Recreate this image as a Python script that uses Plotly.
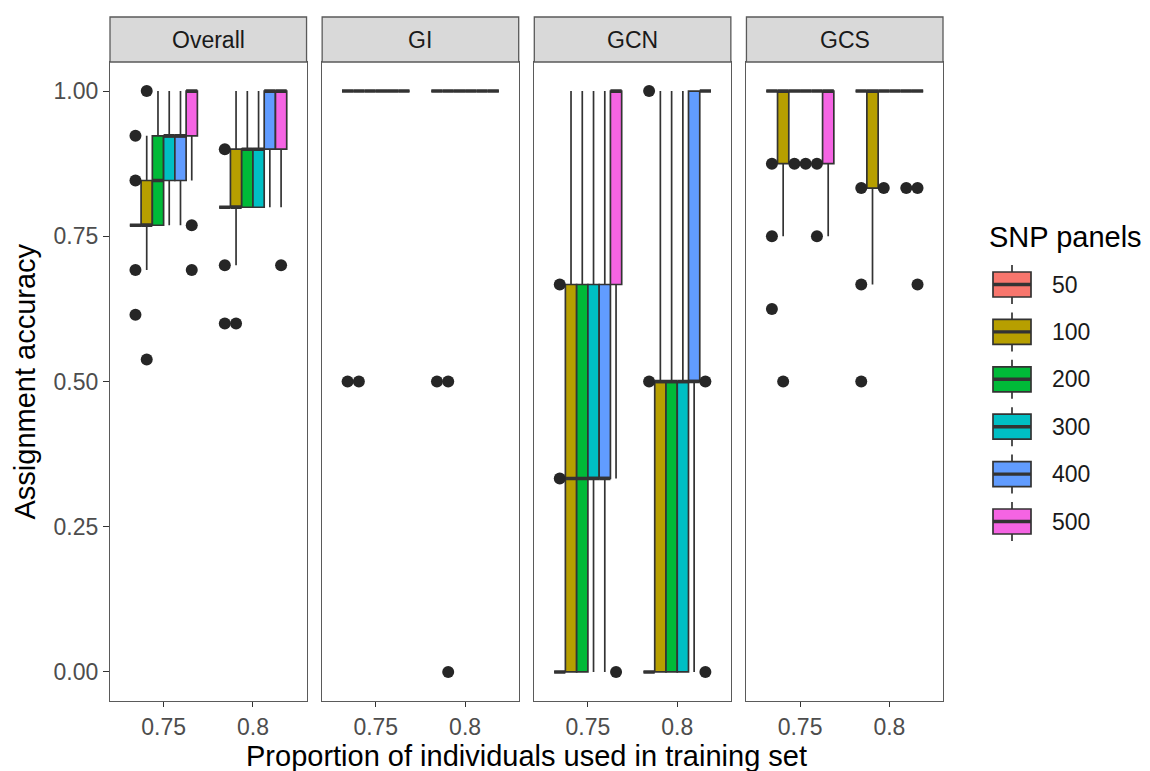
import plotly.graph_objects as go

# ---- data ---------------------------------------------------------------
FACETS = ["Overall", "GI", "GCN", "GCS"]
SNP_PANELS = ["50", "100", "200", "300", "400", "500"]
TRAIN_PROP = [0.75, 0.8]
PANEL_COLORS = ["#F8766D", "#B79F00", "#00BA38", "#00BFC4", "#619CFF", "#F564E3"]

# box statistics: one row per SNP panel, columns = training proportion (0.75, 0.8)
OVERALL_LOWER = [[0.769, 0.8], [0.692, 0.7], [0.769, 0.8], [0.769, 0.8], [0.769, 0.8], [0.846, 0.8]]
OVERALL_Q1 = [[0.769, 0.8], [0.769, 0.8], [0.769, 0.8], [0.846, 0.8], [0.846, 0.9], [0.923, 0.9]]
OVERALL_MEDIAN = [[0.769, 0.8], [0.769, 0.8], [0.846, 0.9], [0.923, 0.9], [0.923, 1.0], [1.0, 1.0]]
OVERALL_Q3 = [[0.769, 0.8], [0.846, 0.9], [0.923, 0.9], [0.923, 0.9], [0.923, 1.0], [1.0, 1.0]]
OVERALL_UPPER = [[0.769, 0.8], [0.923, 1.0], [1.0, 1.0], [1.0, 1.0], [1.0, 1.0], [1.0, 1.0]]
OVERALL_OUTLIERS = [[[0.923, 0.846, 0.692, 0.615], [0.9, 0.7, 0.6]],
                    [[1.0, 0.538], [0.6]],
                    [[], []], [[], []], [[], []],
                    [[0.769, 0.692], [0.7]]]

GI_LOWER = [[1.0, 1.0]] * 6
GI_Q1 = [[1.0, 1.0]] * 6
GI_MEDIAN = [[1.0, 1.0]] * 6
GI_Q3 = [[1.0, 1.0]] * 6
GI_UPPER = [[1.0, 1.0]] * 6
GI_OUTLIERS = [[[0.5], [0.5]], [[0.5], [0.5, 0.0]], [[], []], [[], []], [[], []], [[], []]]

GCN_LOWER = [[0.0, 0.0], [0.0, 0.0], [0.0, 0.0], [0.0, 0.0], [0.0, 0.0], [0.333, 1.0]]
GCN_Q1 = [[0.0, 0.0], [0.0, 0.0], [0.0, 0.0], [0.333, 0.0], [0.333, 0.5], [0.667, 1.0]]
GCN_MEDIAN = [[0.0, 0.0], [0.333, 0.5], [0.333, 0.5], [0.333, 0.5], [0.333, 0.5], [1.0, 1.0]]
GCN_Q3 = [[0.0, 0.0], [0.667, 0.5], [0.667, 0.5], [0.667, 0.5], [0.667, 1.0], [1.0, 1.0]]
GCN_UPPER = [[0.0, 0.0], [1.0, 1.0], [1.0, 1.0], [1.0, 1.0], [1.0, 1.0], [1.0, 1.0]]
GCN_OUTLIERS = [[[0.667, 0.333], [1.0, 0.5]], [[], []], [[], []], [[], []], [[], []],
                [[0.0], [0.5, 0.0]]]

GCS_LOWER = [[1.0, 1.0], [0.75, 0.667], [1.0, 1.0], [1.0, 1.0], [1.0, 1.0], [0.75, 1.0]]
GCS_Q1 = [[1.0, 1.0], [0.875, 0.833], [1.0, 1.0], [1.0, 1.0], [1.0, 1.0], [0.875, 1.0]]
GCS_MEDIAN = [[1.0, 1.0]] * 6
GCS_Q3 = [[1.0, 1.0]] * 6
GCS_UPPER = [[1.0, 1.0]] * 6
GCS_OUTLIERS = [[[0.875, 0.75, 0.625], [0.833, 0.667, 0.5]],
                [[0.5], []],
                [[0.875], [0.833]],
                [[0.875], []],
                [[0.875, 0.75], [0.833]],
                [[], [0.833, 0.667]]]

Y_TICKS = [0.0, 0.25, 0.5, 0.75, 1.0]
X_TITLE = "Proportion of individuals used in training set"
Y_TITLE = "Assignment accuracy"
LEGEND_TITLE = "SNP panels"

STATS = {
    "Overall": (OVERALL_LOWER, OVERALL_Q1, OVERALL_MEDIAN, OVERALL_Q3, OVERALL_UPPER, OVERALL_OUTLIERS),
    "GI": (GI_LOWER, GI_Q1, GI_MEDIAN, GI_Q3, GI_UPPER, GI_OUTLIERS),
    "GCN": (GCN_LOWER, GCN_Q1, GCN_MEDIAN, GCN_Q3, GCN_UPPER, GCN_OUTLIERS),
    "GCS": (GCS_LOWER, GCS_Q1, GCS_MEDIAN, GCS_Q3, GCS_UPPER, GCS_OUTLIERS),
}

# ---- layout geometry ----------------------------------------------------
W, H = 1150, 771
ML, MR, MT, MB = 110, 207, 62, 70
PW, PH = W - ML - MR, H - MT - MB
PANEL_GAP = 15.6
PANEL_W = (PW - 3 * PANEL_GAP) / 4
STRIP_H = 45
FONT = "Liberation Sans, Arial, sans-serif"
OUTLINE = "#333333"
BOX_LW = 1.7
MEDIAN_LW = 3.4
SMALL_TXT = 23
TITLE_TXT = 29
DODGE = 0.0063  # width of one dodged box in x units


def px_x(px):
    return (px - ML) / PW


def px_y(py):
    return 1 - (py - MT) / PH


fig = go.Figure()
shapes, annotations = [], []

for f, facet in enumerate(FACETS):
    ax = "" if f == 0 else str(f + 1)
    left = ML + f * (PANEL_W + PANEL_GAP)
    dom = [max(0.0, px_x(left)), min(1.0, px_x(left + PANEL_W))]
    lower, q1, med, q3, upper, outl = STATS[facet]
    for g, panel in enumerate(SNP_PANELS):
        off = (g - (len(SNP_PANELS) - 1) / 2) * DODGE
        xs = [p + off for p in TRAIN_PROP]
        # box + whiskers
        fig.add_trace(go.Box(
            x=xs, q1=q1[g], median=med[g], q3=q3[g],
            lowerfence=lower[g], upperfence=upper[g],
            width=DODGE, whiskerwidth=0, boxpoints=False,
            fillcolor=PANEL_COLORS[g], line=dict(color=OUTLINE, width=BOX_LW),
            name=panel, showlegend=False, hoverinfo="skip",
            xaxis="x" + ax, yaxis="y" + ax,
        ))
        # heavier median bar, as in ggplot's fatten=2
        fig.add_trace(go.Box(
            x=xs, q1=med[g], median=med[g], q3=med[g],
            lowerfence=med[g], upperfence=med[g],
            width=DODGE, whiskerwidth=0, boxpoints=False,
            fillcolor="rgba(0,0,0,0)", line=dict(color=OUTLINE, width=MEDIAN_LW),
            name=panel, showlegend=False, hoverinfo="skip",
            xaxis="x" + ax, yaxis="y" + ax,
        ))
        ox, oy = [], []
        for k, p in enumerate(TRAIN_PROP):
            for v in outl[g][k]:
                ox.append(p + off)
                oy.append(v)
        if ox:
            fig.add_trace(go.Scatter(
                x=ox, y=oy, mode="markers",
                marker=dict(color="#262626", size=12, line=dict(width=0)),
                showlegend=False, hoverinfo="y",
                xaxis="x" + ax, yaxis="y" + ax,
            ))

    fig.update_layout(**{
        "xaxis" + ax: dict(
            domain=dom, range=[0.72, 0.83], tickvals=TRAIN_PROP,
            ticktext=[str(p) for p in TRAIN_PROP],
            showgrid=False, zeroline=False, showline=True, mirror=True,
            linecolor="#5a5a5a", linewidth=1.3,
            ticks="outside", ticklen=5, tickcolor="#333333", tickwidth=1.3,
            tickfont=dict(family=FONT, size=SMALL_TXT, color="#4D4D4D"),
            anchor="y" + ax,
        ),
        "yaxis" + ax: dict(
            domain=[0, 1], range=[-0.05, 1.05], tickvals=Y_TICKS,
            ticktext=["%.2f" % t for t in Y_TICKS],
            showticklabels=(f == 0),
            showgrid=False, zeroline=False, showline=True, mirror=True,
            linecolor="#5a5a5a", linewidth=1.3,
            ticks="outside" if f == 0 else "", ticklen=6, tickcolor="#333333", tickwidth=1.3,
            tickfont=dict(family=FONT, size=SMALL_TXT, color="#4D4D4D"),
            anchor="x" + ax,
        ),
    })

    # facet strip
    shapes.append(dict(type="rect", xref="paper", yref="paper",
                       x0=dom[0], x1=dom[1], y0=1, y1=px_y(MT - STRIP_H),
                       fillcolor="#D9D9D9", line=dict(color="#5a5a5a", width=1.3)))
    annotations.append(dict(xref="paper", yref="paper", x=(dom[0] + dom[1]) / 2,
                            y=px_y(MT - STRIP_H / 2), text=facet, showarrow=False,
                            xanchor="center", yanchor="middle",
                            font=dict(family=FONT, size=SMALL_TXT, color="#1A1A1A")))

# axis titles
annotations.append(dict(xref="paper", yref="paper", x=0.5,
                        y=px_y(756), text=X_TITLE, showarrow=False,
                        xanchor="center", yanchor="middle",
                        font=dict(family=FONT, size=TITLE_TXT, color="#000000")))
annotations.append(dict(xref="paper", yref="paper", x=px_x(24), y=px_y(MT + PH / 2),
                        text=Y_TITLE, showarrow=False, textangle=-90,
                        xanchor="center", yanchor="middle",
                        font=dict(family=FONT, size=TITLE_TXT, color="#000000")))

# legend drawn as ggplot-style boxplot keys
annotations.append(dict(xref="paper", yref="paper", x=px_x(987), y=px_y(237),
                        text=LEGEND_TITLE, showarrow=False, xanchor="left", yanchor="middle",
                        font=dict(family=FONT, size=TITLE_TXT, color="#000000")))
for g, panel in enumerate(SNP_PANELS):
    yc = 284.5 + g * 47.4
    kx0, kx1 = 993, 1031
    kxm = (kx0 + kx1) / 2
    shapes.append(dict(type="line", xref="paper", yref="paper",
                       x0=px_x(kxm), x1=px_x(kxm), y0=px_y(yc - 19.5), y1=px_y(yc + 19.5),
                       line=dict(color=OUTLINE, width=BOX_LW)))
    shapes.append(dict(type="rect", xref="paper", yref="paper",
                       x0=px_x(kx0), x1=px_x(kx1), y0=px_y(yc - 12.5), y1=px_y(yc + 12.5),
                       fillcolor=PANEL_COLORS[g], line=dict(color=OUTLINE, width=BOX_LW)))
    shapes.append(dict(type="line", xref="paper", yref="paper",
                       x0=px_x(kx0), x1=px_x(kx1), y0=px_y(yc), y1=px_y(yc),
                       line=dict(color=OUTLINE, width=MEDIAN_LW)))
    annotations.append(dict(xref="paper", yref="paper", x=px_x(1050), y=px_y(yc),
                            text=panel, showarrow=False, xanchor="left", yanchor="middle",
                            font=dict(family=FONT, size=23, color="#1A1A1A")))

fig.update_layout(
    width=W, height=H,
    margin=dict(l=ML, r=MR, t=MT, b=MB, autoexpand=False),
    paper_bgcolor="white", plot_bgcolor="white",
    showlegend=False, shapes=shapes, annotations=annotations,
    font=dict(family=FONT),
)

fig.write_html("out.html")
